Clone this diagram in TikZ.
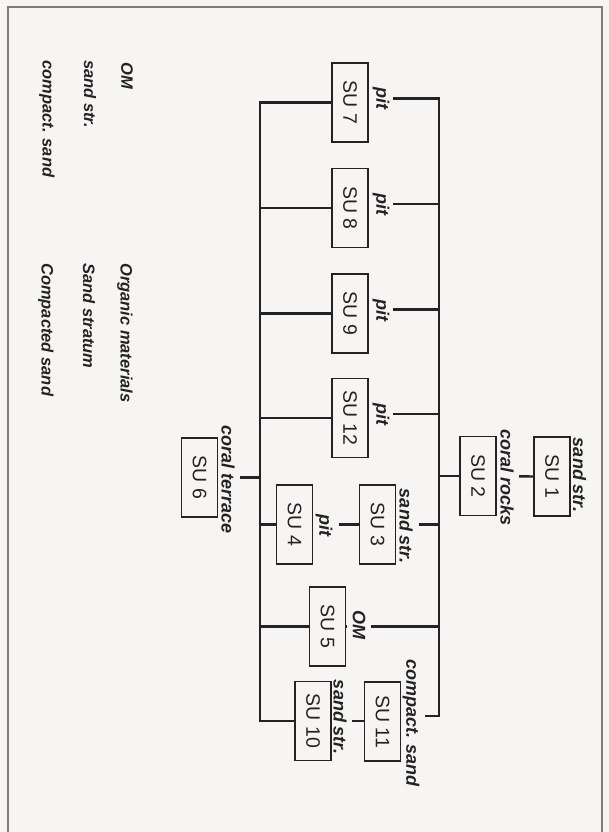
\documentclass[tikz,border=0pt]{standalone}
\usepackage{fontspec}
\setmainfont{Liberation Sans}
\definecolor{paper}{RGB}{246,245,243}
\definecolor{ink}{RGB}{35,35,35}
\definecolor{framec}{RGB}{125,125,125}
\pgfdeclarelayer{paperl}
\pgfdeclarelayer{wires}
\pgfsetlayers{paperl,wires,main}
\begin{document}
\begin{tikzpicture}[x=1pt,y=1pt,
  su/.style={draw=ink, line width=1.8pt, rotate=-90, minimum width=79pt, minimum height=36pt,
    inner sep=0pt, fill=paper, text=ink, font=\fontsize{19.5}{21}\selectfont},
  lab/.style={rotate=-90, fill=paper, inner sep=2pt, text=ink,
    font=\fontsize{18}{20}\selectfont\bfseries\itshape},
  leg/.style={rotate=-90, anchor=west, inner sep=0pt, text=ink,
    font=\fontsize{16.5}{18}\selectfont\bfseries\itshape},
  wire/.style={draw=ink, line width=2.4pt}]
\useasboundingbox (0,0) rectangle (609,-832);
\begin{pgfonlayer}{paperl}
\fill[paper] (0,0) rectangle (609,-832);
\draw[framec, line width=1.3pt] (8,-832) -- (8,-7) -- (602,-7) -- (602,-832);
\end{pgfonlayer}

% boxes
\node[su] (su1)  at (552,-476.5) {SU 1};
\node[su] (su2)  at (478,-476)   {SU 2};
\node[su] (su3)  at (377.5,-524.5) {SU 3};
\node[su] (su4)  at (294.5,-524.5) {SU 4};
\node[su] (su5)  at (327.5,-626.5) {SU 5};
\node[su] (su6)  at (199.5,-477.5) {SU 6};
\node[su] (su7)  at (350,-102.5) {SU 7};
\node[su] (su8)  at (350,-208)   {SU 8};
\node[su] (su9)  at (350,-313.5) {SU 9};
\node[su] (su12) at (350,-418)   {SU 12};
\node[su] (su10) at (313,-721)   {SU 10};
\node[su] (su11) at (382.5,-721.5) {SU 11};

% bus coordinates
\coordinate (Lt) at (260,-100);
\coordinate (Lb) at (260,-721);
\coordinate (Rt) at (439,-98);
\coordinate (Rb) at (439,-716);

\begin{pgfonlayer}{wires}
% left bus
\draw[wire] (su7.south) -| (Lb) -- (su10.south);
\foreach \n in {su8,su9,su12,su4,su5} {\draw[wire] (\n.south) -- (\n.south -| Lt);}
\draw[wire] (su6.north) -- (su6.north -| Lt);

% right bus
\draw[wire] ([yshift=4pt]su7.north) -| (Rb) -- (Rb -| su11.north);
\foreach \n in {su8,su9,su12} {\draw[wire] ([yshift=4pt]\n.north) -- ([yshift=4pt]\n.north -| Rt);}
\foreach \n in {su3,su5} {\draw[wire] (\n.north) -- (\n.north -| Rt);}
\draw[wire] (su2.south) -- (su2.south -| Rt);

% chains
\draw[wire] (su2.north) -- (su1.south);
\draw[wire] (su4.north) -- (su4.north -| su3.south);
\draw[wire] (su10.north) -- (su10.north -| su11.south);

% labels
\node[lab, inner ysep=4pt] (l7)  at (381,-98.5) {pit};
\node[lab, inner ysep=4pt] (l8)  at (381,-204)  {pit};
\node[lab, inner ysep=4pt] (l9)  at (381,-310)  {pit};
\node[lab, inner ysep=4pt] (l12) at (381,-414)  {pit};
\node[lab, inner sep=0pt] (l1) at (579.5,-475) {sand str.};
\node[lab, inner ysep=5pt] (l2) at (507,-478) {coral rocks};
\node[lab, inner ysep=6pt] (l3) at (406,-526) {sand str.};
\node[lab, inner ysep=7pt] (l4) at (324,-525) {pit};
\node[lab, inner ysep=6pt] (l5) at (359,-625) {OM};
\node[lab, inner ysep=6pt] (l11) at (411,-723) {compact. sand};
\node[lab, inner ysep=5pt] (l10) at (340,-717) {sand str.};
\node[lab, inner ysep=5pt] (l6) at (228,-480) {coral terrace};
\end{pgfonlayer}

% legend
\node[leg] (k1) at (127,-62)  {OM};
\node[leg] (v1) at (125,-263) {Organic materials};
\node[leg] (k2) at (90,-60)   {sand str.};
\node[leg] (v2) at (89,-263)  {Sand stratum};
\node[leg] (k3) at (47,-60)   {compact. sand};
\node[leg] (v3) at (46,-263)  {Compacted sand};
\end{tikzpicture}
\end{document}
